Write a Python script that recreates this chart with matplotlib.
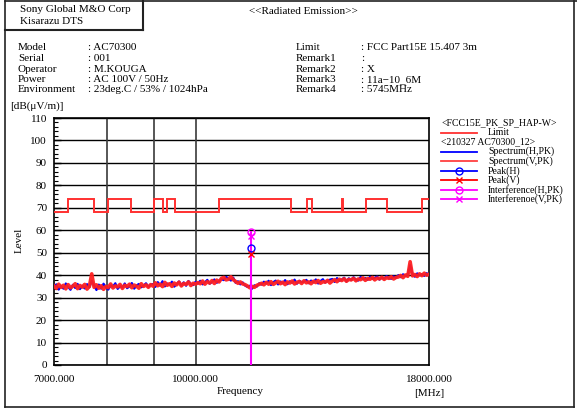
import numpy as np
import matplotlib
matplotlib.use("Agg")
import matplotlib.pyplot as plt
from matplotlib.lines import Line2D

plt.rcParams['font.family'] = ['Liberation Serif', 'DejaVu Serif']

# ---------------- data ----------------
limit_edges = [7000, 7250, 7750, 8025, 8500, 9000, 9200, 9300, 9500, 10600,
               12700, 13250, 13400, 14470, 14500, 15350, 16200, 17700, 18000]
limit_levels = [68.2, 74, 68.2, 74, 68.2, 74, 68.2, 74, 68.2, 74,
                68.2, 74, 68.2, 74, 68.2, 74, 68.2, 74]

spec_v = [35.2, 34.1, 36.0, 34.6, 35.5, 33.9, 35.8, 34.4, 35.1, 36.2, 34.0, 35.4, 34.7, 35.9, 33.8, 35.0,
          40.6,
          34.6, 35.7, 34.2, 35.3, 33.7, 35.0, 34.5, 36.1, 34.3, 35.2, 34.8, 35.9, 34.1, 35.5, 34.9, 36.0,
          34.4, 35.6, 35.1, 34.2, 36.2, 35.0, 35.7, 34.6, 35.8,
          35.1, 36.6, 35.3, 36.0, 34.9, 36.8, 35.5, 36.2, 35.0, 36.5, 35.7, 36.9, 35.2, 36.3, 35.9, 37.0,
          35.4, 36.4, 36.0, 36.7,
          36.2, 37.4, 36.0, 37.1, 36.5, 37.6, 36.3, 37.8, 37.0,
          38.6, 39.0, 37.9, 38.2, 39.3, 38.0,
          37.2, 36.4, 37.0, 36.1, 35.8, 35.2,
          34.4, 35.0, 34.6, 35.5, 35.9,
          36.4, 35.7, 36.8, 36.0, 37.1, 35.9, 36.6, 37.3, 36.2, 36.9, 35.8, 37.0, 36.5, 37.4, 36.1, 36.8,
          37.2, 36.3, 37.5, 36.6, 37.0, 36.2, 37.3, 36.7, 37.6, 36.4, 37.1, 36.9, 37.7, 36.5,
          37.4, 38.0, 37.1, 38.2, 37.6, 38.4, 37.3, 38.1, 37.9, 38.6, 37.5, 38.3, 38.0, 38.8, 37.7, 38.5,
          38.2, 39.0, 37.9, 38.7, 38.4, 39.1, 38.1, 38.9, 38.6, 39.3, 38.3, 39.0,
          39.2, 39.9, 38.9, 40.1, 39.5, 46.0, 39.7, 40.3, 39.4, 40.6, 39.8, 40.9, 40.0, 40.4]

spec_h = [34.5, 35.9, 33.6, 35.2, 34.0, 36.3, 34.8, 33.5, 35.7, 34.3, 36.1, 33.8, 35.3, 34.1, 36.0, 34.6,
          37.5,
          35.5, 33.4, 35.8, 34.0, 36.2, 34.7, 33.6, 35.4, 34.9, 36.4, 33.9, 35.1, 34.5, 36.3, 34.2, 35.0,
          36.5, 34.0, 35.4, 36.1, 34.6, 35.3, 36.4, 34.8, 35.9,
          36.0, 34.8, 36.9, 35.4, 37.3, 35.0, 36.3, 35.6, 37.1, 34.9, 36.0, 37.2, 35.5, 36.8, 35.3, 37.4,
          36.1, 35.6, 37.0, 36.3,
          37.5, 35.9, 36.8, 37.9, 36.2, 37.0, 38.1, 36.6, 37.4,
          38.2, 37.8, 39.2, 38.5, 37.6, 38.9,
          36.6, 37.3, 35.9, 36.8, 35.4, 34.8,
          35.3, 34.0, 35.5, 34.9, 36.4,
          35.8, 37.1, 36.3, 37.5, 35.6, 36.9, 37.6, 35.9, 37.2, 36.4, 37.8, 36.0, 37.3, 36.6, 38.0, 36.2,
          37.5, 36.9, 37.1, 37.9, 36.4, 37.6, 36.8, 38.1, 36.3, 37.4, 38.2, 36.7, 37.5, 38.0,
          38.3, 37.0, 38.7, 37.5, 38.0, 38.9, 37.2, 38.6, 37.8, 39.1, 38.0, 37.6, 39.2, 38.2, 38.7, 37.9,
          39.3, 38.4, 38.8, 39.4, 38.0, 39.0, 38.5, 39.6, 38.7, 38.4, 39.5, 38.8,
          40.0, 39.1, 40.4, 39.6, 40.2, 44.5, 40.5, 39.3, 40.8, 40.0, 40.5, 39.7, 40.9, 40.2]

start_freq = 7000
stop_freq = 18000

interf_freq = 11490
interf_h = 59.2
interf_v = 57.3
peak_h = 51.9
peak_v = 49.4

grid_freqs = [8000, 9000, 10000]
xtick_vals = [7000, 10000, 18000]
xtick_labels = ["7000.000", "10000.000", "18000.000"]
yticks = list(range(0, 111, 10))

header_left_keys = ["Model", "Serial", "Operator", "Power", "Environment"]
header_left_vals = [": AC70300", ": 001", ": M.KOUGA", ": AC 100V / 50Hz", ": 23deg.C / 53% / 1024hPa"]
header_right_keys = ["Limit", "Remark1", "Remark2", "Remark3", "Remark4"]
header_right_vals = [": FCC Part15E 15.407 3m", ":", ": X", ": 11a\u221210_6M", ": 5745MHz"]

# ---------------- figure ----------------
W, H = 577, 412
fig = plt.figure(figsize=(W / 100, H / 100), dpi=100)

def fx(x):
    return x / W

def fy(y):
    return 1 - y / H

FS = 8

ax_l, ax_r, ax_t, ax_b = 54, 429, 118, 365
ax = fig.add_axes([fx(ax_l), fy(ax_b), (ax_r - ax_l) / W, (ax_b - ax_t) / H])
ax.set_xscale('log')
ax.set_xlim(start_freq, stop_freq)
ax.set_ylim(0, 110)

# grid
for yv in yticks:
    ax.axhline(yv, color='black', lw=1.0, zorder=1)
for gf in grid_freqs:
    ax.axvline(gf, color='#3a3a3a', lw=1.2, zorder=1)

# spectrum traces
freqs_h = np.geomspace(start_freq, stop_freq, len(spec_h))
freqs_v = np.geomspace(start_freq, stop_freq, len(spec_v))
ax.plot(freqs_h, spec_h, color='blue', lw=1.6, zorder=3)
ax.plot(freqs_v, spec_v, color='#ff2020', lw=2.6, alpha=0.95, zorder=4)

# limit
ax.stairs(limit_levels, limit_edges, color='#ff3030', lw=1.4, zorder=5, baseline=None)

# interference / peaks
ax.plot([interf_freq, interf_freq], [0, interf_h], color='#ff00ff', lw=1.5, zorder=6)
ax.plot([interf_freq], [interf_h], marker='o', ms=5, mfc='none', mec='#ff00ff', mew=1.0, zorder=7)
ax.plot([interf_freq], [interf_v], marker='x', ms=5, mec='#ff00ff', mew=1.0, zorder=7)
ax.plot([interf_freq], [peak_h], marker='o', ms=5, mfc='none', mec='blue', mew=1.0, zorder=7)
ax.plot([interf_freq], [peak_v], marker='x', ms=5, mec='red', mew=1.0, zorder=7)

# ticks
ax.set_yticks(yticks)
ax.set_yticks(np.arange(0, 111, 2), minor=True)
ax.tick_params(axis='y', which='major', direction='in', length=5, width=1, labelsize=FS, pad=5)
ax.tick_params(axis='y', which='minor', direction='in', length=3, width=0.8)
ax.set_xticks(xtick_vals)
ax.set_xticklabels(xtick_labels)
ax.xaxis.set_minor_locator(matplotlib.ticker.NullLocator())
ax.tick_params(axis='x', which='major', length=0, labelsize=FS, pad=7)
for s in ax.spines.values():
    s.set_linewidth(1.2)
    s.set_color('black')

# axis labels
fig.text(fx(240), fy(392), "Frequency", ha='center', va='center', fontsize=FS)
fig.text(fx(429), fy(393), "[MHz]", ha='center', va='center', fontsize=FS)
fig.text(fx(19), fy(240), "Level", ha='center', va='center', rotation=90, fontsize=FS)
fig.text(fx(10), fy(106), "[dB(\u03bcV/m)]", ha='left', va='center', fontsize=FS)

# frame
lw_frame = 1.2
def fline(x0, y0, x1, y1, lw=lw_frame):
    fig.add_artist(Line2D([fx(x0), fx(x1)], [fy(y0), fy(y1)], color='#222222', lw=lw,
                          transform=fig.transFigure))

fline(5, 1, 577, 1)
fline(5, 1, 5, 407)
fline(5, 407, 574, 407)
fline(574, 1, 574, 407)
fline(143, 1, 143, 30, lw=1.5)
fline(5, 30, 143, 30, lw=1.5)

# header
fig.text(fx(20), fy(10), "Sony Global M&O Corp", ha='left', va='center', fontsize=FS)
fig.text(fx(20), fy(21), "Kisarazu DTS", ha='left', va='center', fontsize=FS)
fig.text(fx(303), fy(11), "<<Radiated Emission>>", ha='center', va='center', fontsize=FS)

row_y = [48, 58.5, 69, 79.5, 90]
for k, v, y in zip(header_left_keys, header_left_vals, row_y):
    fig.text(fx(18), fy(y), k, ha='left', va='center', fontsize=FS)
    fig.text(fx(88), fy(y), v, ha='left', va='center', fontsize=FS)
for k, v, y in zip(header_right_keys, header_right_vals, row_y):
    fig.text(fx(296), fy(y), k, ha='left', va='center', fontsize=FS)
    fig.text(fx(361), fy(y), v, ha='left', va='center', fontsize=FS)

# legend
lx0, lx1, ltx = 441, 477, 488
fig.text(fx(441), fy(123), "<FCC15E_PK_SP_HAP-W>", ha='left', va='center', fontsize=7)
fig.text(fx(441), fy(142), "<210327 AC70300_12>", ha='left', va='center', fontsize=7)
leg_items = [
    (132.5, "Limit", '#ff3030', None),
    (151.5, "Spectrum(H,PK)", 'blue', None),
    (161, "Spectrum(V,PK)", '#ff4040', None),
    (170.7, "Peak(H)", 'blue', 'o'),
    (180.3, "Peak(V)", 'red', 'x'),
    (190, "Interference(H,PK)", '#ff00ff', 'o'),
    (199.3, "Interferenoe(V,PK)", '#ff00ff', 'x'),
]
for y, lab, c, m in leg_items:
    fig.add_artist(Line2D([fx(lx0), fx(lx1)], [fy(y), fy(y)], color=c, lw=1.3,
                          transform=fig.transFigure))
    if m is not None:
        fig.add_artist(Line2D([fx(459)], [fy(y)], color=c, marker=m, ms=5, mfc='none',
                              mec=c, mew=1.0, transform=fig.transFigure))
    fig.text(fx(ltx), fy(y), lab, ha='left', va='center', fontsize=7)

fig.savefig("out.png", dpi=100)
